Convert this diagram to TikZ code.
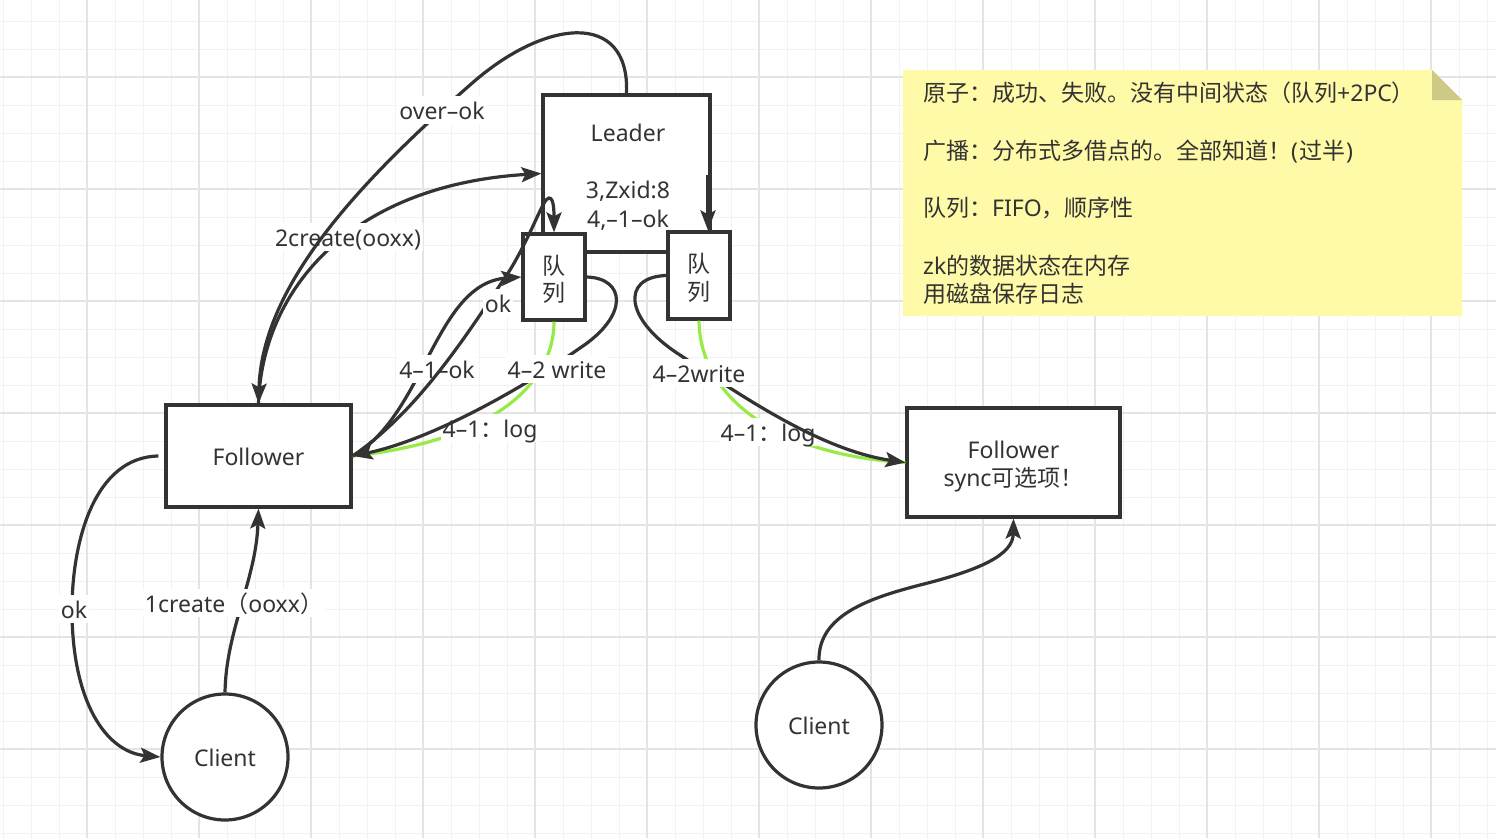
\documentclass[tikz,border=0pt]{standalone}
\usepackage{fontspec}
\setmainfont{Noto Sans}
\newfontfamily\cjk{Noto Sans CJK SC}
\usetikzlibrary{arrows.meta}
\definecolor{ink}{HTML}{333333}
\definecolor{gridminor}{HTML}{F2F2F2}
\definecolor{gridmajor}{HTML}{E4E4E4}
\definecolor{notefill}{RGB}{255,250,168}
\definecolor{notefold}{RGB}{207,201,134}
\definecolor{logline}{RGB}{150,235,70}
\tikzset{
  every node/.style={font=\fontsize{23}{27}\selectfont, text=ink},
  boxnode/.style={draw=ink, line width=3.2pt, fill=white, rectangle, inner sep=0pt, text height=18pt, text depth=0pt},
  circnode/.style={draw=ink, line width=3.2pt, fill=white, circle, inner sep=0pt, minimum size=126pt, text height=18pt, text depth=0pt},
  txt/.style={inner sep=0pt, text height=18pt, text depth=0pt},
  lbl/.style={fill=white, inner xsep=2pt, inner ysep=5pt, text height=18pt, text depth=0pt},
  conn/.style={draw=ink, line width=3.2pt},
  arr/.style={conn, -{Stealth[length=20pt,width=15pt,inset=4pt]}},
  greenline/.style={draw=logline, line width=3.2pt},
}
\begin{document}
\begin{tikzpicture}[x=1pt,y=-1pt]
\useasboundingbox (0,0) rectangle (1496,838);
\fill[white] (0,0) rectangle (1496,838);
% grid
\foreach \i in {0,...,53} \draw[gridminor, line width=1pt] ({3+28*\i},0) -- ({3+28*\i},838);
\foreach \j in {0,...,29} \draw[gridminor, line width=1pt] (0,{21+28*\j}) -- (1496,{21+28*\j});
\foreach \i in {0,...,12} \draw[gridmajor, line width=1.2pt] ({87+112*\i},0) -- ({87+112*\i},838);
\foreach \j in {0,...,6} \draw[gridmajor, line width=1.2pt] (0,{77+112*\j}) -- (1496,{77+112*\j});

% note
\fill[notefill] (903,70) -- (1432,70) -- (1462,100) -- (1462,316) -- (903,316) -- cycle;
\fill[notefold] (1432,70) -- (1432,100) -- (1462,100) -- cycle;
\node[txt, anchor=west] (note1) at (923,92) {{\cjk 原子：成功、失败。没有中间状态（队列}+2PC{\cjk ）}};
\node[txt, anchor=west] (note2) at (923,150) {{\cjk 广播：分布式多借点的。全部知道！}(\kern1pt{\cjk 过半}\kern1pt)};
\node[txt, anchor=west] (note3) at (923,207) {{\cjk 队列：}FIFO{\cjk ，顺序性}};
\node[txt, anchor=west] (note4) at (923,265) {zk{\cjk 的数据状态在内存}};
\node[txt, anchor=west] (note5) at (923,293) {{\cjk 用磁盘保存日志}};

% nodes
\node[boxnode, minimum width=167pt, minimum height=157pt] (leader) at (626.5,173.5) {};
\node[txt] (leadername) at (628,132) {Leader};
\node[txt] (leaderzxid) at (628,189) {3,Zxid:8};
\node[txt] (leaderok) at (628,218) {4,–1–ok};

\node[boxnode, minimum width=62pt, minimum height=86pt] (queue1) at (554,277) {};
\node[txt] (q1a) at (554,265) {\cjk 队};
\node[txt] (q1b) at (554,292) {\cjk 列};
\node[boxnode, minimum width=62pt, minimum height=87pt] (queue2) at (699,275.5) {};
\node[txt] (q2a) at (699,263) {\cjk 队};
\node[txt] (q2b) at (699,291) {\cjk 列};

\node[boxnode, minimum width=185pt, minimum height=102pt] (follower) at (258.5,456) {Follower};
\node[boxnode, minimum width=213pt, minimum height=109pt] (followerR) at (1013.5,462.5) {};
\node[txt] (fr1) at (1013.5,449) {Follower};
\node[txt] (fr2) at (1013.5,477) {sync{\cjk 可选项！}};

\node[circnode] (clientL) at (225,757) {Client};
\node[circnode] (clientR) at (819,725) {Client};

% leader <-> follower
\draw[arr] (follower.north) .. controls (262,290) and (350,185) .. (leader.west);
\node[lbl] (lblcreate2) at (348,237) {2create(ooxx)};
\draw[arr] (leader.north) .. controls (630,10) and (545,18) .. (470,85) .. controls (350,190) and (262,290) .. (follower.north);
\node[lbl] (lblover) at (442,110) {over–ok};

% client <-> follower
\draw[arr] (clientL.north) .. controls (226,630) and (256,580) .. (follower.south);
\node[lbl] (lblcreate1) at (234,603) {1create{\cjk （}ooxx{\cjk ）}};
\draw[arr] ([xshift=-6pt]follower.west) .. controls (95,457) and (72,540) .. (72,610) .. controls (72,700) and (105,752) .. (clientL.west);
\node[lbl] (lblok1) at (74,609) {ok};
\draw[arr] (clientR.north) .. controls (818,615) and (870,598) .. (920,585) .. controls (980,570) and (1013,555) .. (followerR.south);

% leader -> queue2
\coordinate (q2src) at (708,175);
\draw[arr] (q2src) -- (q2src |- queue2.north);

% queue1 <-> follower
\draw[greenline] (queue1.south) .. controls (554,380) and (500,440) .. (follower.east);
\node[lbl] (lbllog1) at (490,428) {4–1{\cjk ：}log};
\draw[arr] (queue1.east) .. controls (625,278) and (630,315) .. (580,348) .. controls (520,390) and (430,440) .. (follower.east);
\node[lbl] (lblwrite1) at (557,369) {4–2 write};
\draw[arr] (follower.east) .. controls (425,415) and (435,283) .. (queue1.west);
\node[lbl] (lblok41) at (437,369) {4–1–ok};
\draw[arr] (follower.east) .. controls (420,410) and (470,330) .. (510,270) .. controls (533,232) and (543,198) .. (549,198) .. controls (554,198) and (554,212) .. (queue1.north);
\node[lbl] (lblok2) at (498,303) {ok};

% queue2 -> followerR
\draw[greenline] (queue2.south) .. controls (700,400) and (780,455) .. (followerR.west);
\node[lbl] (lbllog2) at (768,432) {4–1{\cjk ：}log};
\draw[arr] (queue2.west) .. controls (620,277) and (625,320) .. (680,355) .. controls (740,395) and (820,450) .. (followerR.west);
\node[lbl] (lblwrite2) at (699,373) {4–2write};
\end{tikzpicture}
\end{document}
